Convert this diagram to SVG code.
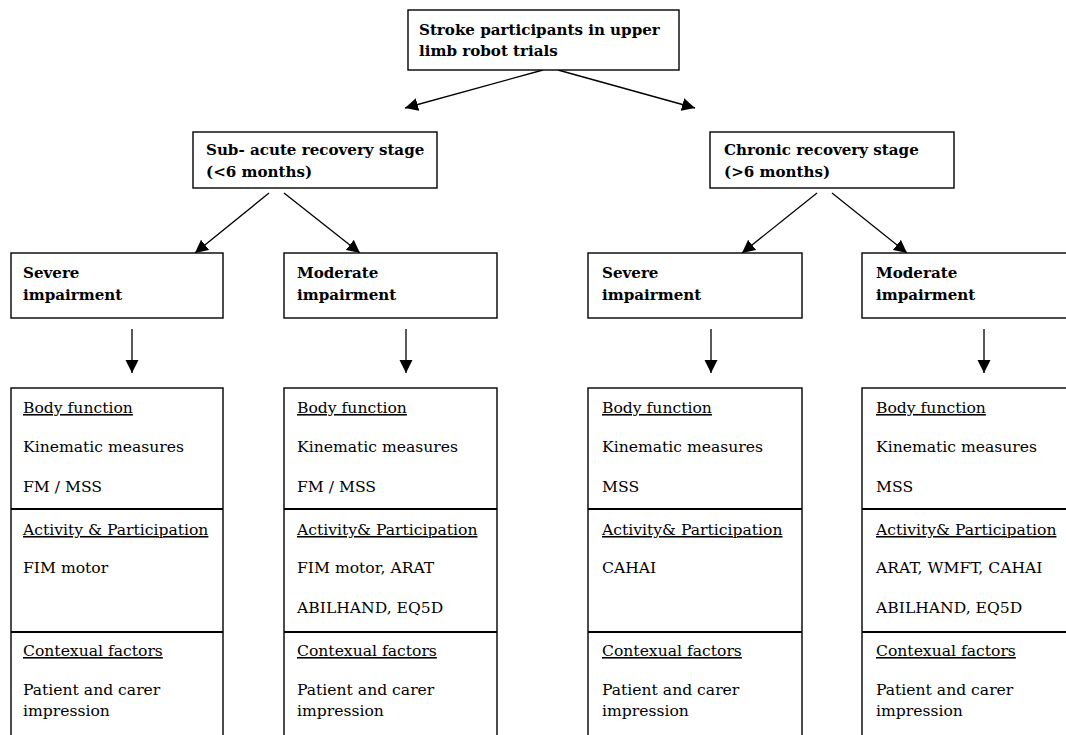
<svg xmlns="http://www.w3.org/2000/svg" width="1066" height="735" viewBox="0 0 1066 735">
<style>
.box{fill:#fff;stroke:#000;stroke-width:1.4}
.div{stroke:#000;stroke-width:2}
.b{font-family:"DejaVu Serif",serif;font-weight:bold;font-size:15.1px;fill:#000}
.r{font-family:"DejaVu Serif",serif;font-size:15.6px;fill:#000}
.u{text-decoration:underline}
.c{stroke:#000;stroke-width:1.3;fill:none;marker-end:url(#ah)}
</style>
<defs>
<marker id="ah" markerUnits="userSpaceOnUse" markerWidth="14" markerHeight="14" refX="13" refY="6.5" orient="auto" viewBox="0 0 14 13">
<path d="M0,0 L13,6.5 L0,13 z" fill="#000"/>
</marker>
</defs>
<rect width="1066" height="735" fill="#fff"/>
<g id="connectors">
<line class="c" x1="543" y1="70" x2="405" y2="108"/>
<line class="c" x1="558" y1="70" x2="695" y2="108"/>
<line class="c" x1="269" y1="193" x2="195" y2="253"/>
<line class="c" x1="284" y1="193" x2="360" y2="253"/>
<line class="c" x1="817" y1="193" x2="742" y2="253"/>
<line class="c" x1="832" y1="193" x2="907" y2="253"/>
<line class="c" x1="132" y1="329" x2="132" y2="373"/>
<line class="c" x1="406" y1="329" x2="406" y2="373"/>
<line class="c" x1="711" y1="329" x2="711" y2="373"/>
<line class="c" x1="984" y1="329" x2="984" y2="373"/>
</g>
<g id="root">
<rect class="box" x="408" y="10" width="271" height="60"/>
<text class="b" x="419" y="35">Stroke participants in upper</text>
<text class="b" x="419" y="56">limb robot trials</text>
</g>
<g id="subacute">
<rect class="box" x="193" y="132" width="244" height="56"/>
<text class="b" x="206" y="155">Sub- acute recovery stage</text>
<text class="b" x="206" y="177">(&lt;6 months)</text>
</g>
<g id="chronic">
<rect class="box" x="710" y="132" width="244" height="56"/>
<text class="b" x="724" y="155">Chronic recovery stage</text>
<text class="b" x="724" y="177">(&gt;6 months)</text>
</g>
<g id="sa-severe">
<rect class="box" x="11" y="253" width="212" height="65"/>
<text class="b" x="23" y="278">Severe</text>
<text class="b" x="23" y="300">impairment</text>
</g>
<g id="sa-moderate">
<rect class="box" x="284" y="253" width="213" height="65"/>
<text class="b" x="297" y="278">Moderate</text>
<text class="b" x="297" y="300">impairment</text>
</g>
<g id="ch-severe">
<rect class="box" x="588" y="253" width="214" height="65"/>
<text class="b" x="602" y="278">Severe</text>
<text class="b" x="602" y="300">impairment</text>
</g>
<g id="ch-moderate">
<rect class="box" x="862" y="253" width="220" height="65"/>
<text class="b" x="876" y="278">Moderate</text>
<text class="b" x="876" y="300">impairment</text>
</g>
<g id="sa-severe-measures">
<rect class="box" x="11" y="388" width="212" height="360"/>
<line class="div" x1="11" y1="509" x2="223" y2="509"/>
<line class="div" x1="11" y1="632" x2="223" y2="632"/>
<text class="r u" x="23" y="413">Body function</text>
<text class="r" x="23" y="452">Kinematic measures</text>
<text class="r" x="23" y="492">FM / MSS</text>
<text class="r u" x="23" y="535">Activity &amp; Participation</text>
<text class="r" x="23" y="573">FIM motor</text>
<text class="r u" x="23" y="656">Contexual factors</text>
<text class="r" x="23" y="695">Patient and carer</text>
<text class="r" x="23" y="716">impression</text>
</g>
<g id="sa-moderate-measures">
<rect class="box" x="284" y="388" width="213" height="360"/>
<line class="div" x1="284" y1="509" x2="497" y2="509"/>
<line class="div" x1="284" y1="632" x2="497" y2="632"/>
<text class="r u" x="297" y="413">Body function</text>
<text class="r" x="297" y="452">Kinematic measures</text>
<text class="r" x="297" y="492">FM / MSS</text>
<text class="r u" x="297" y="535">Activity&amp; Participation</text>
<text class="r" x="297" y="573">FIM motor, ARAT</text>
<text class="r" x="297" y="613">ABILHAND, EQ5D</text>
<text class="r u" x="297" y="656">Contexual factors</text>
<text class="r" x="297" y="695">Patient and carer</text>
<text class="r" x="297" y="716">impression</text>
</g>
<g id="ch-severe-measures">
<rect class="box" x="588" y="388" width="214" height="360"/>
<line class="div" x1="588" y1="509" x2="802" y2="509"/>
<line class="div" x1="588" y1="632" x2="802" y2="632"/>
<text class="r u" x="602" y="413">Body function</text>
<text class="r" x="602" y="452">Kinematic measures</text>
<text class="r" x="602" y="492">MSS</text>
<text class="r u" x="602" y="535">Activity&amp; Participation</text>
<text class="r" x="602" y="573">CAHAI</text>
<text class="r u" x="602" y="656">Contexual factors</text>
<text class="r" x="602" y="695">Patient and carer</text>
<text class="r" x="602" y="716">impression</text>
</g>
<g id="ch-moderate-measures">
<rect class="box" x="862" y="388" width="220" height="360"/>
<line class="div" x1="862" y1="509" x2="1082" y2="509"/>
<line class="div" x1="862" y1="632" x2="1082" y2="632"/>
<text class="r u" x="876" y="413">Body function</text>
<text class="r" x="876" y="452">Kinematic measures</text>
<text class="r" x="876" y="492">MSS</text>
<text class="r u" x="876" y="535">Activity&amp; Participation</text>
<text class="r" x="876" y="573">ARAT, WMFT, CAHAI</text>
<text class="r" x="876" y="613">ABILHAND, EQ5D</text>
<text class="r u" x="876" y="656">Contexual factors</text>
<text class="r" x="876" y="695">Patient and carer</text>
<text class="r" x="876" y="716">impression</text>
</g>
</svg>
